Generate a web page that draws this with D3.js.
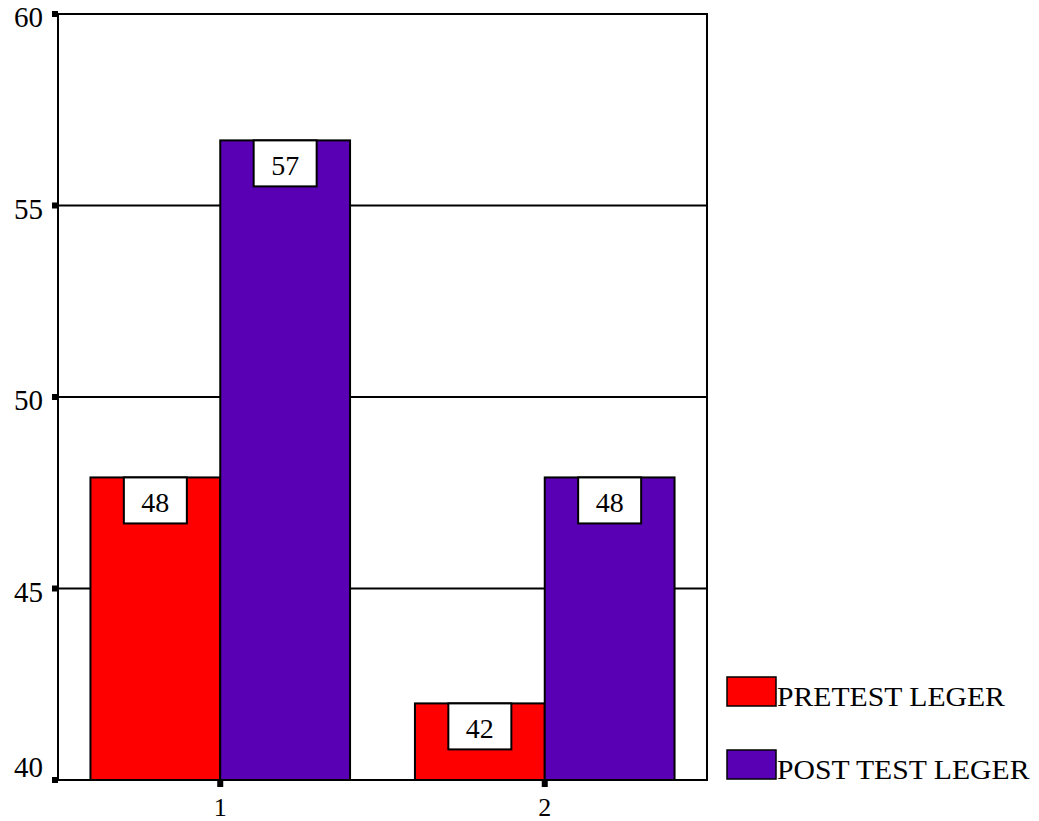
<!DOCTYPE html>
<html>
<head>
<meta charset="utf-8">
<script src="https://cdn.jsdelivr.net/npm/d3@7"></script>
<style>
  html, body { margin: 0; padding: 0; background: #fff; }
  svg { display: block; }
  svg text { font-family: 'Liberation Serif', 'Times New Roman', Times, 'DejaVu Serif', serif; fill: #000; }
</style>
</head>
<body>
<svg id="chart" width="1039" height="821"></svg>
<script>
// Group categories on the x axis
const categories = ["1", "2"];
// Series names and colours
const seriesNames = ["PRETEST LEGER", "POST TEST LEGER"];
const seriesColors = ["#ff0000", "#5a00b4"];
// Mean values per group (pretest, post test)
const pretest = [47.9, 42.0];
const posttest = [56.7, 47.9];
// Y axis ticks
const yTicks = [40, 45, 50, 55, 60];

const svg = d3.select("#chart");
const serif = "'Liberation Serif', 'Times New Roman', Times, 'DejaVu Serif', serif";
const plot = { left: 58, right: 707, top: 14, bottom: 780 };

const x = d3.scaleBand().domain(categories).range([plot.left, plot.right]).padding(0);
const groupWidth = x.bandwidth() * 0.8;
const xs = d3.scaleBand().domain([0, 1]).range([0, groupWidth]).padding(0);
const y = d3.scaleLinear().domain([40, 60]).range([plot.bottom, plot.top]);

// Grid lines
svg.append("g").selectAll("line").data(yTicks.filter(t => t > 40 && t < 60)).join("line")
  .attr("x1", plot.left).attr("x2", plot.right)
  .attr("y1", d => y(d)).attr("y2", d => y(d))
  .attr("stroke", "#000").attr("stroke-width", 2);

// Bars
const rows = categories.map((c, i) => ({ cat: c, vals: [pretest[i], posttest[i]] }));
const groups = svg.append("g").selectAll("g").data(rows).join("g")
  .attr("transform", d => `translate(${x(d.cat) + (x.bandwidth() - groupWidth) / 2},0)`);

const bars = groups.selectAll("g.bar").data(d => d.vals.map((v, s) => ({ v, s }))).join("g").attr("class", "bar");
bars.append("rect")
  .attr("x", d => xs(d.s)).attr("width", xs.bandwidth())
  .attr("y", d => y(d.v)).attr("height", d => y(40) - y(d.v))
  .attr("fill", d => seriesColors[d.s])
  .attr("stroke", "#000").attr("stroke-width", 2);

// Value labels in white boxes
const boxW = 63, boxH = 46;
bars.append("rect")
  .attr("x", d => xs(d.s) + xs.bandwidth() / 2 - boxW / 2)
  .attr("y", d => y(d.v)).attr("width", boxW).attr("height", boxH)
  .attr("fill", "#fff").attr("stroke", "#000").attr("stroke-width", 2);
bars.append("text")
  .attr("x", d => xs(d.s) + xs.bandwidth() / 2)
  .attr("y", d => y(d.v) + 35)
  .attr("text-anchor", "middle")
  .attr("font-family", serif)
  .attr("font-size", 28)
  .text(d => d3.format(".0f")(d.v));

// Frame: left axis, bottom axis, top and right border
svg.append("rect")
  .attr("x", plot.left).attr("y", plot.top)
  .attr("width", plot.right - plot.left).attr("height", plot.bottom - plot.top)
  .attr("fill", "none").attr("stroke", "#000").attr("stroke-width", 2);

// Y axis ticks and labels
const yAxis = svg.append("g");
yAxis.selectAll("rect").data(yTicks).join("rect")
  .attr("x", plot.left - 6).attr("y", d => y(d) - 3).attr("width", 6).attr("height", 6).attr("fill", "#000");
yAxis.selectAll("text").data(yTicks).join("text")
  .attr("x", 43)
  .attr("y", d => Math.min(Math.max(y(d) + 13, 27), 777))
  .attr("text-anchor", "end")
  .attr("font-family", serif)
  .attr("font-size", 29)
  .text(d => d);

// X axis ticks and labels
const xAxis = svg.append("g");
xAxis.selectAll("rect").data(categories).join("rect")
  .attr("x", d => x(d) + x.bandwidth() / 2 - 3).attr("y", plot.bottom).attr("width", 6).attr("height", 7).attr("fill", "#000");
xAxis.selectAll("text").data(categories).join("text")
  .attr("x", d => x(d) + x.bandwidth() / 2)
  .attr("y", 816)
  .attr("text-anchor", "middle")
  .attr("font-family", serif)
  .attr("font-size", 26)
  .text(d => d);

// Legend
const legend = svg.append("g").selectAll("g").data(seriesNames).join("g")
  .attr("transform", (d, i) => `translate(727,${677 + i * 73})`);
legend.append("rect")
  .attr("width", 49).attr("height", 29)
  .attr("fill", (d, i) => seriesColors[i])
  .attr("stroke", "#000").attr("stroke-width", 1.5);
legend.append("text")
  .attr("transform", "translate(50,29) scale(1.1,1)")
  .attr("font-family", serif)
  .attr("font-size", 27)
  .text(d => d);
</script>
</body>
</html>
